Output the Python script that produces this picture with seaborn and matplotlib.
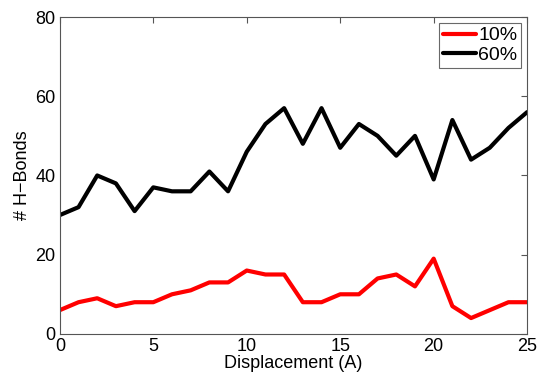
import numpy as np
import pandas as pd
import matplotlib
matplotlib.use("Agg")
import matplotlib.pyplot as plt
import seaborn as sns

displacement = list(range(26))
hb_10 = [6, 8, 9, 7, 8, 8, 10, 11, 13, 13, 16, 15, 15, 8, 8, 10, 10, 14, 15, 12, 19, 7, 4, 6, 8, 8]
hb_60 = [30, 32, 40, 38, 31, 37, 36, 36, 41, 36, 46, 53, 57, 48, 57, 47, 53, 50, 45, 50, 39, 54, 44, 47, 52, 56]
series_names = ["10%", "60%"]
series_colors = ["#ff0000", "#000000"]

df = pd.DataFrame({
    "Displacement": displacement * 2,
    "HB": hb_10 + hb_60,
    "Series": [series_names[0]] * len(hb_10) + [series_names[1]] * len(hb_60),
})

sns.set_style("white")
plt.rcParams["font.family"] = ["Liberation Sans", "DejaVu Sans"]
plt.rcParams["text.color"] = "black"

fig = plt.figure(figsize=(5.39, 3.79), dpi=100)
ax = fig.add_axes([0.111, 0.119, 0.867, 0.836])
sns.lineplot(data=df, x="Displacement", y="HB", hue="Series",
             palette=dict(zip(series_names, series_colors)), linewidth=3,
             ax=ax)

ax.set_xlim(0, 25)
ax.set_ylim(0, 80)
ax.set_xticks([0, 5, 10, 15, 20, 25])
ax.set_yticks([0, 20, 40, 60, 80])
ax.set_xlabel("Displacement (A)", fontsize=13, labelpad=0, color="black")
ax.set_ylabel("# H\u2212Bonds", fontsize=13, labelpad=3, color="black")
ax.tick_params(direction="in", length=4, width=0.8, color="#555555",
               top=True, right=True, labelsize=13, pad=3, labelcolor="black")
for s in ax.spines.values():
    s.set_color("#555555")
    s.set_linewidth(0.8)

leg = ax.legend(loc="upper right", fontsize=14, frameon=True, fancybox=False,
                handlelength=1.7, handletextpad=0.1, borderpad=0.2,
                labelspacing=0.1, borderaxespad=0.3)
leg.get_frame().set_edgecolor("#444444")
leg.get_frame().set_linewidth(0.8)
for line in leg.get_lines():
    line.set_linewidth(3)

fig.savefig("out.png", dpi=100)
